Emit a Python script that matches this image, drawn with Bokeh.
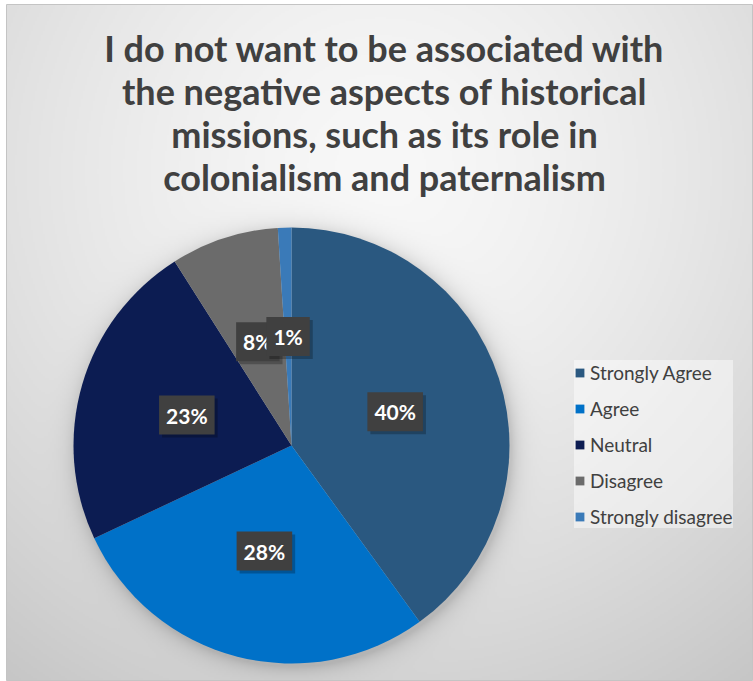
import numpy as np
from bokeh.plotting import figure
from bokeh.models import Range1d, ColumnDataSource, Legend, LegendItem
from bokeh.core.properties import value
from bokeh.embed import file_html
from bokeh.resources import INLINE

# ---- data ----
title_lines = [
    "I do not want to be associated with",
    "the negative aspects of historical",
    "missions, such as its role in",
    "colonialism and paternalism",
]
categories = ["Strongly Agree", "Agree", "Neutral", "Disagree", "Strongly disagree"]
percents = [40, 28, 23, 8, 1]
colors = ["#2A5880", "#0071C8", "#0C1C52", "#6B6B6B", "#3A7AB8"]

W, H = 753, 681
p = figure(width=W, height=H, output_backend="svg", toolbar_location=None,
           x_range=Range1d(0, W), y_range=Range1d(0, H), min_border=0)
p.axis.visible = False
p.grid.visible = False
p.outline_line_color = None
p.background_fill_color = "white"
p.border_fill_color = "white"

# ---- chart-area background: radial gray gradient with pie shadow ----
fx0, fy0, fx1, fy1 = 6, 4, 752, 680          # chart frame in pixel coords (top-down)
cx, cy_pix, R = 291, 445, 218                 # pie centre (pixels) and radius
nx, ny = (fx1 - fx0) // 2, (fy1 - fy0) // 2
xs = np.linspace(fx0, fx1, nx)
ys = np.linspace(fy0, fy1, ny)
X, Y = np.meshgrid(xs, ys)
d = np.clip(np.hypot(X - 380, Y - 170) / 650.0, 0, 1)
g = 248 - 52 * d ** 1.5
rr = np.hypot(X - (cx + 2), Y - (cy_pix + 4))
g = g * (1 - 0.16 * np.exp(-np.maximum(rr - R, 0) / 9.0))
img = np.empty((ny, nx, 4), dtype=np.uint8)
img[..., 0] = g
img[..., 1] = g
img[..., 2] = g
img[..., 3] = 255
img = img[::-1]
packed = img.view(np.uint32).reshape(ny, nx)
p.image_rgba(image=[packed], x=fx0, y=H - fy1, dw=fx1 - fx0, dh=fy1 - fy0)
p.quad(left=[fx0], right=[fx1], bottom=[H - fy1], top=[H - fy0],
       fill_color=None, line_color="#c4c4c4", line_width=1)

# ---- title ----
tsrc = ColumnDataSource(dict(
    x=[384] * len(title_lines),
    y=[H - (47 + 43 * i) for i in range(len(title_lines))],
    t=title_lines))
p.text(x="x", y="y", text="t", source=tsrc, text_align="center",
       text_baseline="middle", text_font=value("Lato"), text_font_style="bold",
       text_font_size="36px", text_color="#404040")

# ---- pie ----
cy = H - cy_pix
fr = np.array(percents, dtype=float) / sum(percents)
cum = np.concatenate([[0], np.cumsum(fr)])
start = np.pi / 2 - 2 * np.pi * cum[:-1]
end = np.pi / 2 - 2 * np.pi * cum[1:]
mid = (start + end) / 2
renderers = []
for i, c in enumerate(categories):
    r = p.wedge(x=cx, y=cy, radius=R, start_angle=start[i], end_angle=end[i],
                direction="clock", fill_color=colors[i], line_color=None)
    renderers.append(r)

# ---- data labels ----
lx = cx + 0.5 * R * np.cos(mid)
ly = cy + 0.5 * R * np.sin(mid)
lt = [f"{v}%" for v in percents]
common = dict(text_align="center", text_baseline="middle",
              text_font=value("Lato"), text_font_style="bold",
              text_font_size="21px", padding=7)
for i in range(len(percents)):
    sub = ColumnDataSource(dict(x=[lx[i]], y=[ly[i]], t=[lt[i]]))
    p.text(x="x", y="y", text="t", source=sub, x_offset=3, y_offset=3,
           text_alpha=0, background_fill_color="black",
           background_fill_alpha=0.25, **common)
    p.text(x="x", y="y", text="t", source=sub, text_color="white",
           background_fill_color="#404040", **common)

# ---- legend ----
legend = Legend(
    items=[LegendItem(label=c, renderers=[renderers[i]]) for i, c in enumerate(categories)],
    location=(574, 153), orientation="vertical",
    glyph_width=11, glyph_height=11, label_height=24, spacing=12,
    label_standoff=5, padding=8, margin=0,
    label_text_font="Lato", label_text_font_size="19px", label_text_color="#404040",
    background_fill_color="white", background_fill_alpha=0.45,
    border_line_color=None)
p.add_layout(legend)

open("out.html", "w").write(file_html(p, INLINE))
